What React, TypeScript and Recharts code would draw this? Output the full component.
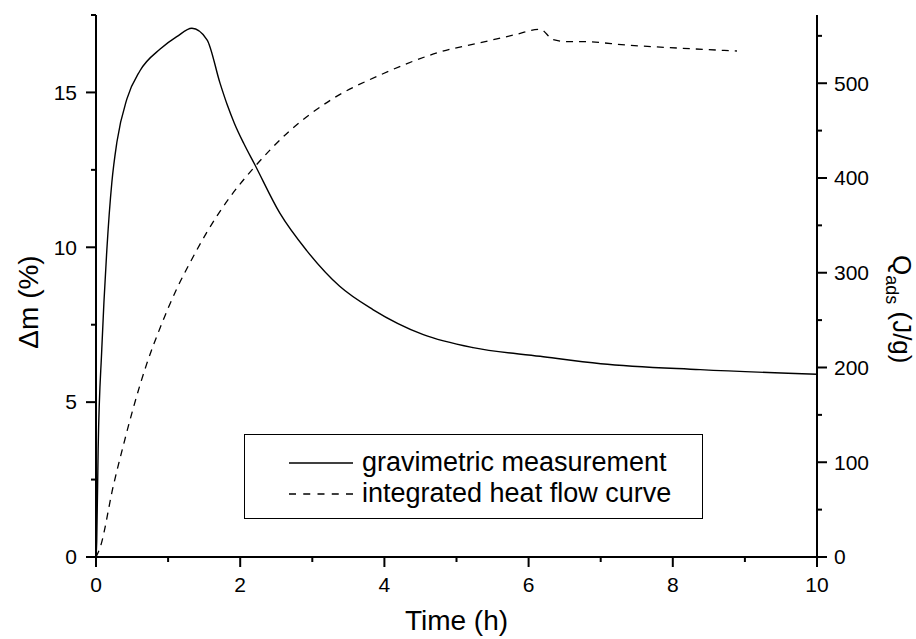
import { LineChart, Line, XAxis, YAxis, Legend, Label } from 'recharts';

// gravimetric measurement (left axis, Δm in %)
const gravTime = [0, 0.01, 0.03, 0.08, 0.15, 0.22, 0.29, 0.43, 0.61, 0.89, 1.12, 1.33, 1.54, 1.72, 1.82, 1.92, 2.05, 2.2, 2.55, 2.92, 3.38, 3.84, 4.54, 5.23, 6.16, 7.0, 8.38, 10];
const gravMass = [0, 0.5, 3.5, 6.7, 9.9, 12.1, 13.4, 14.8, 15.7, 16.4, 16.8, 17.07, 16.7, 15.3, 14.6, 14.0, 13.35, 12.68, 11.1, 9.9, 8.74, 7.99, 7.18, 6.76, 6.48, 6.24, 6.05, 5.9];

// integrated heat flow curve (right axis, Q_ads in J/g)
const heatTime = [0, 0.055, 0.24, 0.38, 0.52, 0.7, 0.89, 1.12, 1.3, 1.54, 1.86, 2.18, 2.69, 3.25, 3.98, 4.73, 5.46, 5.8, 6.16, 6.34, 6.53, 6.71, 7.41, 8.1, 8.89];
const heatQ = [0, 9.5, 75, 118, 158, 203, 242, 283, 310, 343, 380, 410, 450, 482, 510, 532, 545, 551, 557, 546, 544, 544, 540, 537, 534];

const timeTicks = [0, 1, 2, 3, 4, 5, 6, 7, 8, 9, 10];
const massTicks = [0, 2.5, 5, 7.5, 10, 12.5, 15, 17.5];
const heatTicks = [0, 50, 100, 150, 200, 250, 300, 350, 400, 450, 500, 550];

const gravData = gravTime.map((t, i) => ({ t, m: gravMass[i] }));
const heatData = heatTime.map((t, i) => ({ t, q: heatQ[i] }));

const FONT = '"Liberation Sans", Arial, Helvetica, sans-serif';
const MAJOR = 10;
const MINOR = 5;

function BottomTick({ x, y, payload }: any) {
  const v = payload.value;
  const major = v % 2 === 0;
  const ay = y - MAJOR - 10;
  return (
    <g>
      <line x1={x} x2={x} y1={ay} y2={ay + (major ? MAJOR : MINOR)} stroke="#000" strokeWidth={2} />
      {major && (
        <text x={x} y={y} dy="0.71em" textAnchor="middle" fontSize={21} fontFamily={FONT} fill="#000">
          {v}
        </text>
      )}
    </g>
  );
}

function LeftTick({ x, y, payload }: any) {
  const v = payload.value;
  const major = v % 5 === 0;
  const ax = x + MAJOR + 9;
  return (
    <g>
      <line x1={ax - (major ? MAJOR : MINOR)} x2={ax} y1={y} y2={y} stroke="#000" strokeWidth={2} />
      {major && (
        <text x={x} y={y} dy="0.35em" textAnchor="end" fontSize={21} fontFamily={FONT} fill="#000">
          {v}
        </text>
      )}
    </g>
  );
}

function RightTick({ x, y, payload }: any) {
  const v = payload.value;
  const major = v % 100 === 0;
  const ax = x - MAJOR - 7;
  return (
    <g>
      <line x1={ax} x2={ax + (major ? MAJOR : MINOR)} y1={y} y2={y} stroke="#000" strokeWidth={2} />
      {major && (
        <text x={x} y={y} dy="0.35em" textAnchor="start" fontSize={21} fontFamily={FONT} fill="#000">
          {v}
        </text>
      )}
    </g>
  );
}

function XTitle({ viewBox }: any) {
  return (
    <text x={viewBox.x + viewBox.width / 2} y={630} textAnchor="middle" fontSize={28} fontFamily={FONT} fill="#000">
      Time (h)
    </text>
  );
}

function LeftTitle() {
  return (
    <text x={38} y={302} transform="rotate(-90 38 302)" textAnchor="middle" fontSize={28} fontFamily={FONT} fill="#000">
      Δm (%)
    </text>
  );
}

function RightTitle() {
  return (
    <text x={893} y={255} transform="rotate(90 893 255)" textAnchor="start" fontSize={26} fontFamily={FONT} fill="#000">
      Q
      <tspan fontSize={18} dy={7}>ads</tspan>
      <tspan dy={-7}> (J/g)</tspan>
    </text>
  );
}

function LegendBox() {
  const rows = [
    { name: 'gravimetric measurement', dash: undefined, top: 28 },
    { name: 'integrated heat flow curve', dash: '7 7.25', top: 59 },
  ];
  return (
    <div style={{ position: 'relative', width: 459, height: 85, border: '1.5px solid #000', boxSizing: 'border-box', background: '#fff' }}>
      {rows.map((r) => (
        <div key={r.name}>
          <svg width={66} height={4} style={{ position: 'absolute', left: 44, top: r.top - 2 }}>
            <line x1={0} x2={64} y1={2} y2={2} stroke="#000" strokeWidth={1.4} strokeDasharray={r.dash} />
          </svg>
          <span style={{ position: 'absolute', left: 117, top: r.top - 16, fontSize: 27, lineHeight: '31px', fontFamily: FONT, whiteSpace: 'nowrap' }}>
            {r.name}
          </span>
        </div>
      ))}
    </div>
  );
}

export default function App() {
  return (
    <div style={{ position: 'absolute', left: 0, top: 0, width: 916, height: 639, background: '#fff' }}>
      <LineChart width={916} height={639} margin={{ top: 15, right: 39, bottom: 32, left: 36 }}>
        <XAxis
          type="number"
          dataKey="t"
          domain={[0, 10]}
          ticks={timeTicks}
          interval={0}
          height={50}
          tickSize={MAJOR}
          tickMargin={10}
          tickLine={false}
          tick={<BottomTick />}
          axisLine={{ stroke: '#000', strokeWidth: 2 }}
          allowDataOverflow
        >
          <Label content={XTitle} />
        </XAxis>
        <YAxis
          yAxisId="left"
          type="number"
          domain={[0, 17.5]}
          ticks={massTicks}
          interval={0}
          width={60}
          tickSize={MAJOR}
          tickMargin={9}
          tickLine={false}
          tick={<LeftTick />}
          axisLine={{ stroke: '#000', strokeWidth: 2 }}
          allowDataOverflow
        >
          <Label content={LeftTitle} />
        </YAxis>
        <YAxis
          yAxisId="right"
          orientation="right"
          type="number"
          domain={[0, 572]}
          ticks={heatTicks}
          interval={0}
          width={60}
          tickSize={MAJOR}
          tickMargin={7}
          tickLine={false}
          tick={<RightTick />}
          axisLine={{ stroke: '#000', strokeWidth: 2 }}
          allowDataOverflow
        >
          <Label content={RightTitle} />
        </YAxis>
        <Line
          yAxisId="left"
          data={gravData}
          dataKey="m"
          name="gravimetric measurement"
          type="monotone"
          stroke="#000"
          strokeWidth={1.4}
          dot={false}
          isAnimationActive={false}
        />
        <Line
          yAxisId="right"
          data={heatData}
          dataKey="q"
          name="integrated heat flow curve"
          type="monotone"
          stroke="#000"
          strokeWidth={1.3}
          strokeDasharray="7 6"
          dot={false}
          isAnimationActive={false}
        />
        <Legend
          layout="horizontal"
          verticalAlign="middle"
          align="center"
          content={() => <LegendBox />}
          wrapperStyle={{ position: 'absolute', left: 244, top: 434, width: 459, height: 85 }}
        />
      </LineChart>
    </div>
  );
}
